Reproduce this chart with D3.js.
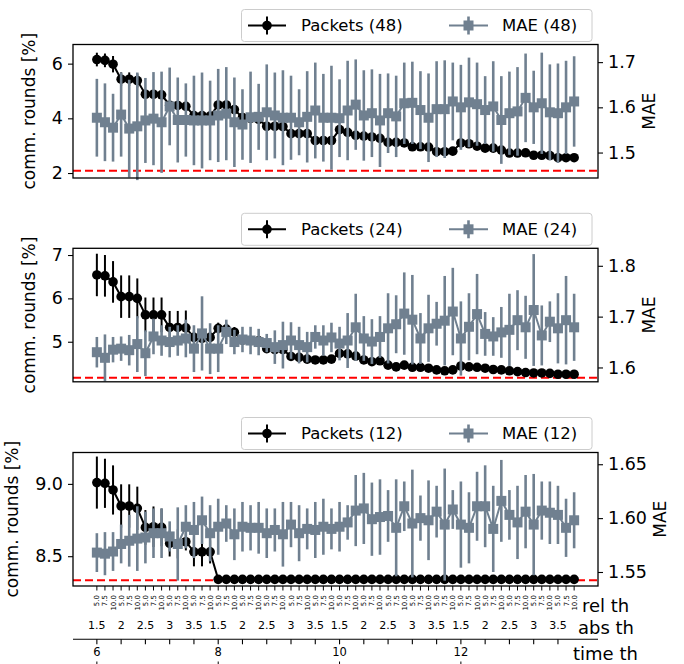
<!DOCTYPE html>
<html>
<head>
<meta charset="utf-8">
<script src="https://cdn.jsdelivr.net/npm/d3@7"></script>
<style>
  body { margin: 0; background: #fff; }
  svg text { font-family: "DejaVu Sans", sans-serif; fill: #000; }
</style>
</head>
<body>
<svg id="chart" width="684" height="664"></svg>
<script>
// x categories (time th > abs th > rel th)
const timeTh = ["6", "8", "10", "12"];
const absTh = ["1.5", "2", "2.5", "3", "3.5"];
const relTh = ["5.0", "7.5", "10.0"];

// 48 nodes
const packets48 = [6.15, 6.12, 5.98, 5.43, 5.43, 5.38, 4.88, 4.88, 4.86, 4.48,
  4.47, 4.44, 4.10, 4.10, 4.08, 4.49, 4.49, 4.32, 4.03, 4.00,
  3.96, 3.71, 3.71, 3.70, 3.44, 3.44, 3.44, 3.19, 3.19, 3.19,
  3.59, 3.49, 3.38, 3.35, 3.32, 3.27, 3.12, 3.12, 3.10, 2.96,
  2.96, 2.95, 2.78, 2.78, 2.80, 3.10, 3.07, 2.98, 2.91, 2.91,
  2.84, 2.73, 2.73, 2.74, 2.65, 2.65, 2.64, 2.56, 2.56, 2.56];
const packets48Err = [0.25, 0.25, 0.30, 0.25, 0.25, 0.25, 0.15, 0.15, 0.15, 0.12,
  0.12, 0.12, 0.10, 0.10, 0.10, 0.10, 0.10, 0.10, 0.10, 0.10,
  0.10, 0.10, 0.10, 0.10, 0.10, 0.10, 0.10, 0.10, 0.10, 0.10,
  0.08, 0.08, 0.08, 0.08, 0.08, 0.08, 0.08, 0.08, 0.08, 0.08,
  0.08, 0.08, 0.08, 0.08, 0.08, 0.08, 0.08, 0.08, 0.08, 0.08,
  0.08, 0.08, 0.08, 0.08, 0.08, 0.08, 0.08, 0.08, 0.08, 0.08];
const mae48 = [1.577, 1.567, 1.555, 1.584, 1.553, 1.558, 1.571, 1.575, 1.567, 1.602,
  1.572, 1.572, 1.571, 1.571, 1.571, 1.582, 1.586, 1.567, 1.562, 1.578,
  1.579, 1.589, 1.582, 1.577, 1.577, 1.567, 1.579, 1.593, 1.577, 1.577,
  1.576, 1.593, 1.606, 1.582, 1.587, 1.571, 1.587, 1.580, 1.609, 1.610,
  1.594, 1.577, 1.596, 1.596, 1.613, 1.600, 1.611, 1.607, 1.594, 1.602,
  1.572, 1.587, 1.591, 1.621, 1.600, 1.609, 1.589, 1.587, 1.600, 1.613];
const mae48Err = [0.086, 0.086, 0.075, 0.093, 0.108, 0.119, 0.094, 0.103, 0.112, 0.086,
  0.094, 0.081, 0.099, 0.106, 0.088, 0.103, 0.103, 0.099, 0.078, 0.101,
  0.073, 0.106, 0.095, 0.105, 0.093, 0.073, 0.101, 0.106, 0.097, 0.115,
  0.086, 0.110, 0.100, 0.100, 0.097, 0.103, 0.088, 0.090, 0.090, 0.091,
  0.086, 0.098, 0.106, 0.108, 0.086, 0.094, 0.099, 0.092, 0.075, 0.100,
  0.097, 0.092, 0.098, 0.098, 0.081, 0.112, 0.106, 0.110, 0.103, 0.100];

// 24 nodes
const packets24 = [6.54, 6.52, 6.38, 6.04, 6.04, 6.00, 5.62, 5.62, 5.62, 5.33,
  5.33, 5.32, 5.10, 5.08, 5.10, 5.31, 5.29, 5.22, 5.04, 5.03,
  5.02, 4.84, 4.82, 4.82, 4.66, 4.64, 4.60, 4.58, 4.58, 4.60,
  4.73, 4.72, 4.67, 4.58, 4.54, 4.56, 4.46, 4.42, 4.46, 4.41,
  4.41, 4.39, 4.35, 4.33, 4.35, 4.44, 4.42, 4.41, 4.39, 4.36,
  4.35, 4.33, 4.31, 4.29, 4.28, 4.28, 4.27, 4.25, 4.25, 4.25];
const packets24Err = [0.49, 0.48, 0.48, 0.49, 0.49, 0.46, 0.40, 0.40, 0.40, 0.38,
  0.38, 0.40, 0.17, 0.15, 0.15, 0.13, 0.13, 0.12, 0.10, 0.10,
  0.10, 0.09, 0.09, 0.09, 0.08, 0.08, 0.08, 0.08, 0.08, 0.08,
  0.08, 0.08, 0.08, 0.08, 0.08, 0.08, 0.06, 0.06, 0.06, 0.06,
  0.06, 0.06, 0.06, 0.06, 0.06, 0.06, 0.06, 0.06, 0.05, 0.05,
  0.05, 0.05, 0.05, 0.05, 0.05, 0.05, 0.05, 0.05, 0.05, 0.05];
const mae24 = [1.630, 1.619, 1.635, 1.637, 1.634, 1.646, 1.628, 1.661, 1.653, 1.650,
  1.653, 1.657, 1.637, 1.667, 1.637, 1.637, 1.670, 1.650, 1.655, 1.653,
  1.650, 1.648, 1.640, 1.644, 1.653, 1.644, 1.640, 1.660, 1.653, 1.659,
  1.647, 1.653, 1.679, 1.657, 1.651, 1.660, 1.677, 1.685, 1.706, 1.694,
  1.657, 1.677, 1.686, 1.692, 1.710, 1.657, 1.680, 1.705, 1.666, 1.661,
  1.669, 1.674, 1.693, 1.679, 1.713, 1.663, 1.690, 1.677, 1.693, 1.679];
const mae24Err = [0.030, 0.046, 0.025, 0.024, 0.030, 0.055, 0.045, 0.035, 0.030, 0.030,
  0.030, 0.037, 0.046, 0.073, 0.050, 0.046, 0.024, 0.024, 0.025, 0.027,
  0.026, 0.018, 0.033, 0.046, 0.036, 0.036, 0.030, 0.023, 0.030, 0.029,
  0.033, 0.054, 0.066, 0.044, 0.044, 0.041, 0.069, 0.057, 0.081, 0.088,
  0.050, 0.066, 0.043, 0.088, 0.086, 0.073, 0.066, 0.079, 0.043, 0.038,
  0.050, 0.071, 0.059, 0.062, 0.110, 0.059, 0.040, 0.069, 0.087, 0.066];

// 12 nodes
const packets12 = [9.009, 9.004, 8.958, 8.847, 8.847, 8.831, 8.699, 8.704, 8.699, 8.588,
  8.585, 8.600, 8.530, 8.530, 8.530, 8.340, 8.340, 8.340, 8.340, 8.340,
  8.340, 8.340, 8.340, 8.340, 8.340, 8.340, 8.340, 8.340, 8.340, 8.340,
  8.340, 8.340, 8.340, 8.340, 8.340, 8.340, 8.340, 8.340, 8.340, 8.340,
  8.340, 8.340, 8.340, 8.340, 8.340, 8.340, 8.340, 8.340, 8.340, 8.340,
  8.340, 8.340, 8.340, 8.340, 8.340, 8.340, 8.340, 8.340, 8.340, 8.340];
const packets12Err = [0.18, 0.17, 0.17, 0.15, 0.15, 0.15, 0.12, 0.14, 0.13, 0.09,
  0.10, 0.06, 0.10, 0.10, 0.08, 0, 0, 0, 0, 0,
  0, 0, 0, 0, 0, 0, 0, 0, 0, 0,
  0, 0, 0, 0, 0, 0, 0, 0, 0, 0,
  0, 0, 0, 0, 0, 0, 0, 0, 0, 0,
  0, 0, 0, 0, 0, 0, 0, 0, 0, 0];
const mae12 = [1.568, 1.567, 1.569, 1.576, 1.579, 1.581, 1.582, 1.586, 1.586, 1.583,
  1.576, 1.592, 1.589, 1.598, 1.586, 1.592, 1.595, 1.585, 1.592, 1.591,
  1.591, 1.586, 1.589, 1.585, 1.594, 1.586, 1.590, 1.589, 1.592, 1.590,
  1.592, 1.596, 1.607, 1.609, 1.599, 1.601, 1.602, 1.591, 1.611, 1.595,
  1.600, 1.598, 1.606, 1.594, 1.608, 1.594, 1.591, 1.611, 1.611, 1.590,
  1.616, 1.603, 1.596, 1.606, 1.594, 1.607, 1.605, 1.603, 1.591, 1.598];
const mae12Err = [0.018, 0.020, 0.018, 0.018, 0.024, 0.030, 0.024, 0.023, 0.023, 0.014,
  0.034, 0.020, 0.026, 0.022, 0.026, 0.026, 0.017, 0.024, 0.023, 0.021,
  0.024, 0.023, 0.020, 0.030, 0.021, 0.026, 0.019, 0.026, 0.026, 0.019,
  0.023, 0.016, 0.033, 0.033, 0.034, 0.035, 0.024, 0.045, 0.023, 0.050,
  0.021, 0.037, 0.024, 0.052, 0.018, 0.040, 0.033, 0.032, 0.038, 0.040,
  0.038, 0.023, 0.034, 0.034, 0.047, 0.027, 0.029, 0.027, 0.027, 0.026];

const grey = "#708090";
const tickFont = 17.5;
const legendFont = 16.5;
const labelFont = 17;

const svg = d3.select("#chart");

// build the 60 x categories
const cats = [];
timeTh.forEach((t) => absTh.forEach((a) => relTh.forEach((r) => cats.push({ time: t, abs: a, rel: r }))));
const n = cats.length;

const plotLeft = 73, plotRight = 598, plotH = 133.5;
const x = d3.scaleLinear()
  .domain([-0.05 * (n - 1), (n - 1) * 1.05])
  .range([plotLeft, plotRight]);

const panels = [
  { top: 44.5, nodes: 48, packets: packets48, packetsErr: packets48Err, mae: mae48, maeErr: mae48Err,
    leftDomain: [1.818, 6.70], leftTicks: [2, 4, 6], leftFmt: d3.format("d"),
    rightDomain: [1.4437, 1.739], rightTicks: [1.5, 1.6, 1.7], rightFmt: d3.format(".1f") },
  { top: 248.3, nodes: 24, packets: packets24, packetsErr: packets24Err, mae: mae24, maeErr: mae24Err,
    leftDomain: [4.076, 7.155], leftTicks: [5, 6, 7], leftFmt: d3.format("d"),
    rightDomain: [1.5718, 1.8344], rightTicks: [1.6, 1.7, 1.8], rightFmt: d3.format(".1f") },
  { top: 452.5, nodes: 12, packets: packets12, packetsErr: packets12Err, mae: mae12, maeErr: mae12Err,
    leftDomain: [8.294, 9.217], leftTicks: [8.5, 9.0], leftFmt: d3.format(".1f"),
    rightDomain: [1.537, 1.6609], rightTicks: [1.55, 1.60, 1.65], rightFmt: d3.format(".2f") }
];

function styleAxis(g) {
  g.select(".domain").remove();
  g.selectAll(".tick line").attr("stroke", "#000").attr("stroke-width", 1.1);
  g.selectAll(".tick text").attr("font-size", tickFont).attr("font-family", "DejaVu Sans");
}

function maxTextWidth(g) {
  let w = 0;
  g.selectAll(".tick text").each(function () { w = Math.max(w, this.getComputedTextLength()); });
  return w;
}

panels.forEach((p) => {
  const bottom = p.top + plotH;
  const yL = d3.scaleLinear().domain(p.leftDomain).range([bottom, p.top]);
  const yR = d3.scaleLinear().domain(p.rightDomain).range([bottom, p.top]);
  const g = svg.append("g");

  // left axis
  const gl = g.append("g").attr("transform", `translate(${plotLeft},0)`)
    .call(d3.axisLeft(yL).tickValues(p.leftTicks).tickFormat(p.leftFmt).tickSize(5).tickPadding(5));
  styleAxis(gl);
  const wl = maxTextWidth(gl);
  g.append("text")
    .attr("transform", `translate(${plotLeft - 10 - wl - 17},${p.top + plotH / 2}) rotate(-90)`)
    .attr("text-anchor", "middle")
    .attr("font-size", labelFont)
    .text("comm. rounds [%]");

  // right axis
  const gr = g.append("g").attr("transform", `translate(${plotRight},0)`)
    .call(d3.axisRight(yR).tickValues(p.rightTicks).tickFormat(p.rightFmt).tickSize(5).tickPadding(5));
  styleAxis(gr);
  const wr = maxTextWidth(gr);
  g.append("text")
    .attr("transform", `translate(${plotRight + 10 + wr + 19},${p.top + plotH / 2}) rotate(-90)`)
    .attr("text-anchor", "middle")
    .attr("font-size", labelFont)
    .text("MAE");

  // baseline 100/N
  g.append("line")
    .attr("x1", plotLeft).attr("x2", plotRight)
    .attr("y1", yL(100 / p.nodes)).attr("y2", yL(100 / p.nodes))
    .attr("stroke", "red").attr("stroke-width", 2)
    .attr("stroke-dasharray", "8,4");

  // packets series
  const idx = d3.range(n);
  g.append("g").selectAll("line").data(idx).join("line")
    .attr("x1", (i) => x(i)).attr("x2", (i) => x(i))
    .attr("y1", (i) => yL(p.packets[i] - p.packetsErr[i]))
    .attr("y2", (i) => yL(p.packets[i] + p.packetsErr[i]))
    .attr("stroke", "#000").attr("stroke-width", 2);
  g.append("path")
    .attr("d", d3.line().x((i) => x(i)).y((i) => yL(p.packets[i]))(idx))
    .attr("fill", "none").attr("stroke", "#000").attr("stroke-width", 2);
  g.append("g").selectAll("circle").data(idx).join("circle")
    .attr("cx", (i) => x(i)).attr("cy", (i) => yL(p.packets[i]))
    .attr("r", 4.8).attr("fill", "#000");

  // MAE series (twin axis, drawn on top)
  g.append("g").selectAll("line").data(idx).join("line")
    .attr("x1", (i) => x(i)).attr("x2", (i) => x(i))
    .attr("y1", (i) => yR(p.mae[i] - p.maeErr[i]))
    .attr("y2", (i) => yR(p.mae[i] + p.maeErr[i]))
    .attr("stroke", grey).attr("stroke-width", 2.6);
  g.append("path")
    .attr("d", d3.line().x((i) => x(i)).y((i) => yR(p.mae[i]))(idx))
    .attr("fill", "none").attr("stroke", grey).attr("stroke-width", 2);
  g.append("g").selectAll("rect").data(idx).join("rect")
    .attr("x", (i) => x(i) - 5).attr("y", (i) => yR(p.mae[i]) - 5)
    .attr("width", 10).attr("height", 10).attr("fill", grey);

  // frame
  g.append("rect")
    .attr("x", plotLeft).attr("y", p.top)
    .attr("width", plotRight - plotLeft).attr("height", plotH)
    .attr("fill", "none").attr("stroke", "#000").attr("stroke-width", 1.3);

  // legend
  const lw = 350.5, lh = 32;
  const lx = plotRight - 6 - lw, ly = p.top - 3 - lh;
  const lg = g.append("g").attr("transform", `translate(${lx},${ly})`);
  lg.append("rect").attr("width", lw).attr("height", lh).attr("rx", 3)
    .attr("fill", "#fff").attr("fill-opacity", 0.8)
    .attr("stroke", "#cccccc").attr("stroke-width", 1);
  const cy = lh / 2;
  // packets handle
  lg.append("line").attr("x1", 6.5).attr("x2", 44.5).attr("y1", cy).attr("y2", cy)
    .attr("stroke", "#000").attr("stroke-width", 2);
  lg.append("line").attr("x1", 25.5).attr("x2", 25.5).attr("y1", cy - 9).attr("y2", cy + 9)
    .attr("stroke", "#000").attr("stroke-width", 2);
  lg.append("circle").attr("cx", 25.5).attr("cy", cy).attr("r", 4.8).attr("fill", "#000");
  lg.append("text").attr("x", 59.5).attr("y", cy).attr("dy", "0.35em")
    .attr("font-size", legendFont).text(`Packets (${p.nodes})`);
  // MAE handle
  lg.append("line").attr("x1", 207.5).attr("x2", 246.5).attr("y1", cy).attr("y2", cy)
    .attr("stroke", grey).attr("stroke-width", 2);
  lg.append("line").attr("x1", 227).attr("x2", 227).attr("y1", cy - 9).attr("y2", cy + 9)
    .attr("stroke", grey).attr("stroke-width", 2.6);
  lg.append("rect").attr("x", 222).attr("y", cy - 5).attr("width", 10).attr("height", 10).attr("fill", grey);
  lg.append("text").attr("x", 260.5).attr("y", cy).attr("dy", "0.35em")
    .attr("font-size", legendFont).text(`MAE (${p.nodes})`);
});

// multi-level x axis under the last panel
const xb = panels[2].top + plotH;
const xg = svg.append("g");

xg.append("g").selectAll("line").data(cats).join("line")
  .attr("x1", (d, i) => x(i)).attr("x2", (d, i) => x(i))
  .attr("y1", xb).attr("y2", xb + 4.5)
  .attr("stroke", "#000").attr("stroke-width", 1);

xg.append("g").selectAll("text").data(cats).join("text")
  .attr("transform", (d, i) => `translate(${x(i) + 2.5},${xb + 9}) rotate(-90)`)
  .attr("text-anchor", "end")
  .attr("font-size", 7)
  .text((d) => d.rel);
xg.append("text").attr("x", 582).attr("y", 612).attr("font-size", 18).text("rel th");

const absIdx = d3.range(0, n, relTh.length);
xg.append("g").selectAll("text").data(absIdx).join("text")
  .attr("x", (i) => x(i)).attr("y", 625).attr("dy", "0.35em")
  .attr("text-anchor", "middle").attr("font-size", 11)
  .text((i) => cats[i].abs);
xg.append("text").attr("x", 578).attr("y", 634).attr("font-size", 18).text("abs th");

const ty = 639.3;
xg.append("line").attr("x1", plotLeft).attr("x2", plotRight).attr("y1", ty).attr("y2", ty)
  .attr("stroke", "#000").attr("stroke-width", 1.1);
xg.append("g").selectAll("line").data(absIdx).join("line")
  .attr("x1", (i) => x(i)).attr("x2", (i) => x(i)).attr("y1", ty).attr("y2", ty + 5)
  .attr("stroke", "#000").attr("stroke-width", 1.1);
const timeIdx = d3.range(0, n, relTh.length * absTh.length);
xg.append("g").selectAll("text").data(timeIdx).join("text")
  .attr("x", (i) => x(i)).attr("y", 652).attr("dy", "0.35em")
  .attr("text-anchor", "middle").attr("font-size", 11.5)
  .text((i) => cats[i].time);
xg.append("g").selectAll("line").data(timeIdx).join("line")
  .attr("x1", (i) => x(i)).attr("x2", (i) => x(i)).attr("y1", 661.5).attr("y2", 664)
  .attr("stroke", "#000").attr("stroke-width", 1);
xg.append("text").attr("x", 573).attr("y", 660).attr("font-size", 18).text("time th");
</script>
</body>
</html>
